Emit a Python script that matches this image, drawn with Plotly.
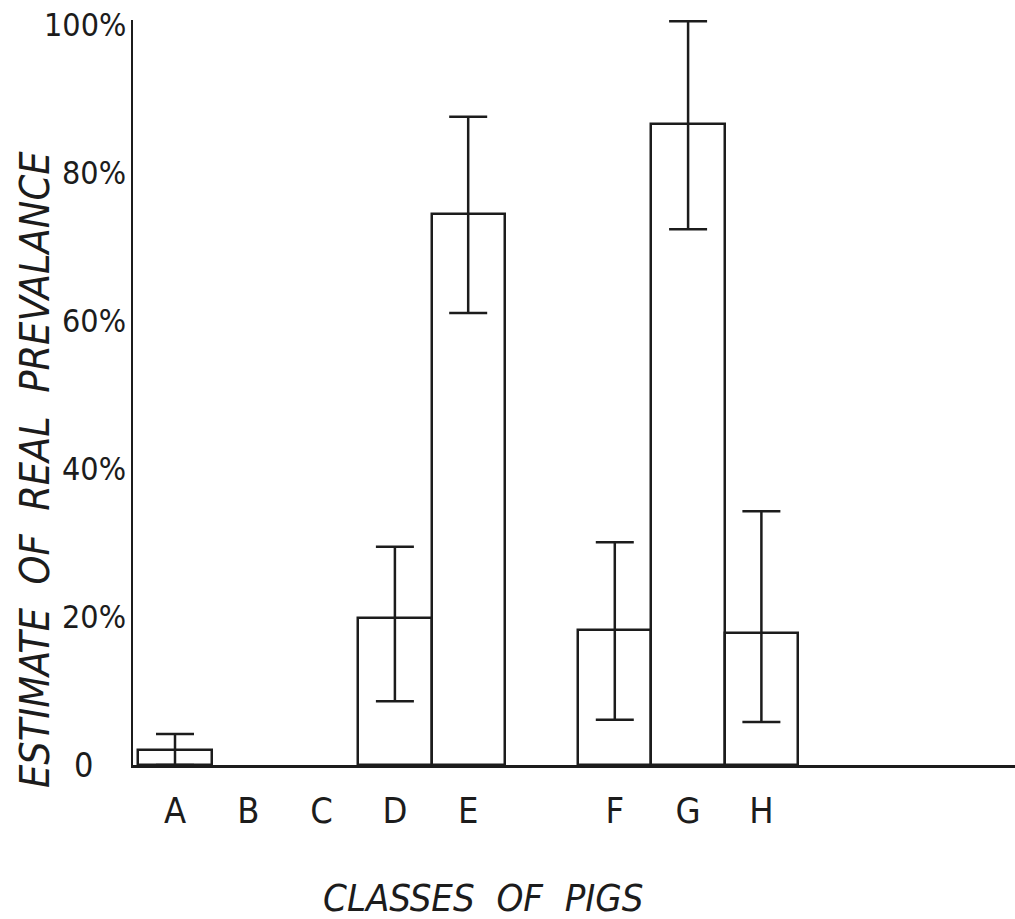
import plotly.graph_objects as go

categories = ["A", "B", "C", "D", "E", "F", "G", "H"]
slot = [0, 1, 2, 3, 4, 6, 7, 8]
prevalence = [2.0, None, None, 19.9, 74.5, 18.2, 86.6, 17.8]
upper = [4.2, None, None, 29.5, 87.6, 30.1, 100.5, 34.3]
lower = [0.0, None, None, 8.6, 61.1, 6.1, 72.4, 5.8]
y_ticks = [0, 20, 40, 60, 80, 100]
y_tick_text = ["0", "20%", "40%", "60%", "80%", "100%"]

INK = "#1c1c1c"
FONT = "'DejaVu Sans Condensed', Roboto, sans-serif"

err_plus = [None if v is None else u - v for v, u in zip(prevalence, upper)]
err_minus = [None if v is None else v - l for v, l in zip(prevalence, lower)]

fig = go.Figure()
fig.add_trace(go.Bar(
    x=slot, y=prevalence, width=1.0,
    marker=dict(color="white", line=dict(color=INK, width=2.5)),
    error_y=dict(type="data", symmetric=False, array=err_plus, arrayminus=err_minus,
                 color=INK, thickness=2.5, width=19),
    showlegend=False, hoverinfo="skip",
))

annotations = []
for v, t in zip(y_ticks, y_tick_text):
    if "%" in t:
        annotations.append(dict(x=0, xref="paper", y=v, yref="y", text=t, showarrow=False,
                                xanchor="right", yanchor="middle", xshift=-5,
                                font=dict(family=FONT, size=32, color=INK)))
    else:
        annotations.append(dict(x=0, xref="paper", y=v, yref="y", text=t, showarrow=False,
                                xanchor="center", yanchor="middle", xshift=-50,
                                font=dict(family=FONT, size=34, color=INK)))

annotations.append(dict(x=0, xref="paper", y=0.396, yref="paper",
                        text="<i>ESTIMATE  OF  REAL  PREVALANCE</i>", showarrow=False,
                        textangle=-90, xanchor="center", yanchor="middle", xshift=-98,
                        font=dict(family=FONT, size=41, color=INK)))
annotations.append(dict(x=0.397, xref="paper", y=-0.178, yref="paper",
                        text="<i>CLASSES  OF  PIGS</i>", showarrow=False,
                        xanchor="center", yanchor="middle",
                        font=dict(family=FONT, size=38, color=INK)))

fig.update_layout(
    width=1015, height=919,
    margin=dict(l=133, r=0, t=20, b=154),
    paper_bgcolor="white", plot_bgcolor="white",
    bargap=0,
    annotations=annotations,
    xaxis=dict(range=[-0.573, 11.46], tickvals=slot, ticktext=categories,
               showline=True, linecolor=INK, linewidth=2.5, showgrid=False, zeroline=False,
               ticks="", ticklabelstandoff=12,
               tickfont=dict(family=FONT, size=36, color=INK)),
    yaxis=dict(range=[0, 100.68], showline=True, linecolor=INK, linewidth=2,
               showgrid=False, zeroline=False, showticklabels=False, ticks=""),
)

fig.write_html("out.html")
